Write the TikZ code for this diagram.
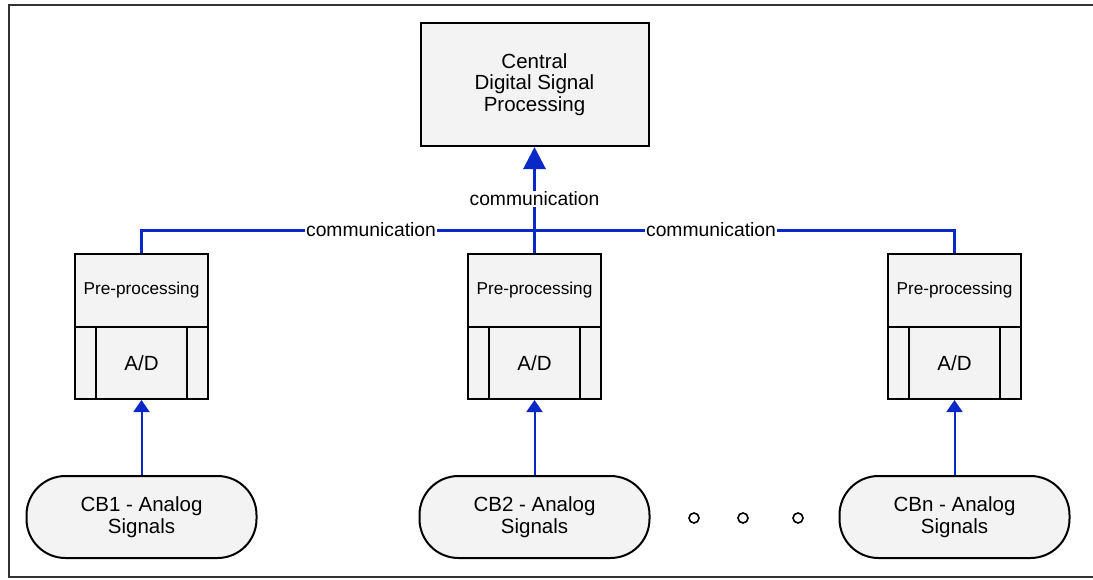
\documentclass[tikz,border=0pt]{standalone}
\usepackage{fontspec}
\setmainfont{Liberation Sans}
\usetikzlibrary{calc,arrows.meta}
\definecolor{linkblue}{RGB}{10,40,200}
\definecolor{boxfill}{RGB}{243,243,243}
\tikzset{
  block/.style={draw=black, line width=2pt, fill=boxfill, inner sep=0pt, align=center},
  bigtext/.style={font=\fontsize{20.5}{21.5}\selectfont},
  smalltext/.style={font=\fontsize{17.2}{19}\selectfont},
  cbox/.style={block, bigtext, minimum width=228pt, minimum height=123pt},
  ppbox/.style={block, smalltext, minimum width=133pt, minimum height=73pt},
  adbox/.style={block, bigtext, minimum width=133pt, minimum height=72pt},
  source/.style={block, bigtext, rounded corners=39pt, minimum width=230pt, minimum height=82pt},
  commlabel/.style={fill=white, inner sep=1pt, font=\fontsize{19.3}{20}\selectfont},
  bus/.style={draw=linkblue, line width=3pt},
  feed/.style={draw=linkblue, line width=2pt, -{Triangle[width=16pt,length=12pt]}},
  dot/.style={draw=black, line width=1.6pt, circle, minimum size=10pt, inner sep=0pt}
}
\begin{document}
\begin{tikzpicture}[x=1pt,y=-1pt]
\useasboundingbox (0,0) rectangle (1093,579);
% outer frame (open on the right)
\draw[black!80, line width=2pt] (1093,5) -- (9,5) -- (9,577) -- (1093,577);

% central processing unit
\node[cbox] (central) at (534.5,84.5) {Central\\Digital Signal\\Processing};

% channel modules: pre-processing over A/D
\foreach \n/\x in {1/141.5, 2/534.5, n/954.5} {
  \node[ppbox] (pp\n) at (\x,290.5) {Pre-processing};
  \node[adbox] (ad\n) at (\x,363) {A/D};
  \draw[black, line width=2pt] ($(ad\n.north west)+(22,0)$) -- ($(ad\n.south west)+(22,0)$);
  \draw[black, line width=2pt] ($(ad\n.north east)+(-22,0)$) -- ($(ad\n.south east)+(-22,0)$);
}

% analog signal sources
\node[source] (cb1) at (141.5,517) {CB1 - Analog\\Signals};
\node[source] (cb2) at (534.5,517) {CB2 - Analog\\Signals};
\node[source] (cbn) at (954.5,517) {CBn - Analog\\Signals};

\node[dot] (d1) at (694,518) {};
\node[dot] (d2) at (743,518) {};
\node[dot] (d3) at (798,518) {};

% communication bus
\node[commlabel] (cl) at (371,230) {communication};
\node[commlabel] (cr) at (711,230) {communication};
\node[commlabel] (ct) at (534.5,199) {communication};
\draw[bus] (pp1.north) |- (cl.west);
\draw[bus] (cl.east) -- (cr.west);
\draw[bus] (cr.east) -| (ppn.north);
\draw[bus] (pp2.north) -- (ct.south);
\draw[linkblue, line width=3pt, -{Triangle[width=22pt,length=22pt]}] (ct.north) -- (central.south);

% analog inputs
\draw[feed] (cb1.north) -- (ad1.south);
\draw[feed] (cb2.north) -- (ad2.south);
\draw[feed] (cbn.north) -- (adn.south);
\end{tikzpicture}
\end{document}
